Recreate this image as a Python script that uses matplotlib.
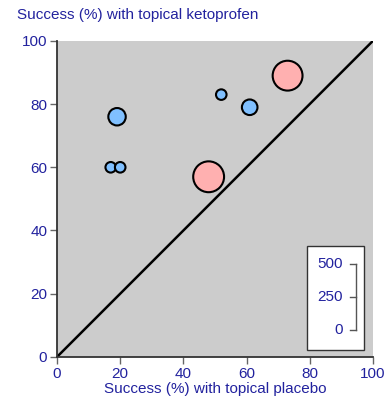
import matplotlib
matplotlib.use("Agg")
import matplotlib.pyplot as plt
import numpy as np
from matplotlib.patches import Rectangle

plt.rcParams['font.family'] = ['Liberation Sans', 'DejaVu Sans']

# Data
placebo = [73, 48, 19, 52, 61, 17, 20]
ketoprofen = [89, 57, 76, 83, 79, 60, 60]
patients = [440, 470, 150, 55, 120, 55, 55]
groups = ['pink', 'pink', 'blue', 'blue', 'blue', 'blue', 'blue']
ticks = [0, 20, 40, 60, 80, 100]
legend_ticks = [0, 250, 500]

text_col = '#22229e'
col_map = {'pink': '#ffb0b0', 'blue': '#80c0ff'}

fig = plt.figure(figsize=(3.88, 4.01), dpi=100)
ax = fig.add_axes([0.147, 0.110, 0.814, 0.788])
ax.set_facecolor('#cccccc')
ax.set_xlim(0, 100)
ax.set_ylim(0, 100)

ax.plot([0, 100], [0, 100], color='black', lw=1.8, zorder=2)

s_scale = 1.05
ax.scatter(placebo, ketoprofen, s=[p * s_scale for p in patients],
           c=[col_map[g] for g in groups], edgecolors='black', linewidths=1.5,
           zorder=3, clip_on=False)

for sp in ['top', 'right']:
    ax.spines[sp].set_visible(False)
for sp in ['left', 'bottom']:
    ax.spines[sp].set_color('#333333')
    ax.spines[sp].set_linewidth(1.3)

ax.set_xticks(ticks)
ax.set_yticks(ticks)
ax.tick_params(axis='both', colors='#666666', labelcolor=text_col,
               labelsize=11, length=5, width=1, direction='out', pad=2)

ax.set_xlabel('Success (%) with topical placebo', color=text_col, fontsize=11, labelpad=1)
fig.text(0.044, 0.962, 'Success (%) with topical ketoprofen', color=text_col,
         fontsize=11, ha='left', va='center')

# Size legend box
ax.add_patch(Rectangle((79.1, 2.2), 18.1, 32.9, facecolor='white',
                       edgecolor='#333333', lw=1.0, zorder=4))
y0, y1 = 8.5, 29.5
ypos = [y0 + (y1 - y0) * v / 500 for v in legend_ticks]
ax.plot([94.8, 94.8], [y0, y1], color='#555555', lw=1.0, zorder=5)
for v, yy in zip(legend_ticks, ypos):
    ax.plot([92.7, 94.8], [yy, yy], color='#555555', lw=1.0, zorder=5)
    ax.text(90.5, yy, str(v), color=text_col, fontsize=11, ha='right',
            va='center', zorder=5)

fig.savefig('out.png', dpi=100)
